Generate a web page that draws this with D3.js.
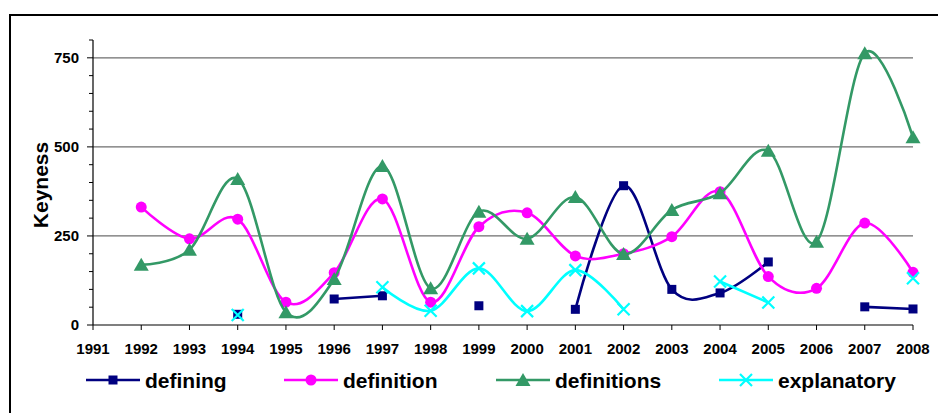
<!DOCTYPE html>
<html><head><meta charset="utf-8">
<script src="https://cdn.jsdelivr.net/npm/d3@7"></script>
<style>body{margin:0;background:#fff}svg{display:block;font-family:Arial,"Liberation Sans",sans-serif}</style>
</head><body><svg id="c" width="938" height="413"></svg>
<script>
const years = [1991,1992,1993,1994,1995,1996,1997,1998,1999,2000,2001,2002,2003,2004,2005,2006,2007,2008];
const defining    = [null,null,null,30,null,73,82,null,54,null,44,391,100,90,177,null,51,45];
const definition  = [null,331,242,297,64,147,354,64,276,315,194,200,248,374,136,103,286,148];
const definitions = [null,169,211,410,36,129,446,103,318,242,359,199,323,370,489,234,763,527];
const explanatory = [null,null,null,28,null,null,106,40,159,39,154,44,null,122,63,null,null,131];
const seriesNames = ["defining","definition","definitions","explanatory"];
const seriesColors = ["#000080","#FF00FF","#339966","#00FFFF"];
const seriesMarkers = ["square","circle","triangle","x"];
const yMajorTicks = [0,250,500,750];
const yTitle = "Keyness";

const svg = d3.select("#c");
svg.append("rect").attr("x",10).attr("y",15).attr("width",940).attr("height",420)
  .attr("fill","none").attr("stroke","#000").attr("stroke-width",2);

const x = d3.scaleLinear().domain([1991,2008]).range([93,913]);
const y = d3.scaleLinear().domain([0,800]).range([325,40]);

// gridlines
svg.append("g").selectAll("line").data(yMajorTicks.filter(v=>v>0)).join("line")
  .attr("x1",x(1991)).attr("x2",x(2008)).attr("y1",d=>y(d)).attr("y2",d=>y(d))
  .attr("stroke","#6e6e6e").attr("stroke-width",1.2);

// y axis
const minor = d3.range(0,801,50);
svg.append("g").selectAll("line").data(minor).join("line")
  .attr("x1",d=>yMajorTicks.includes(d)?x(1991)-6:x(1991)-4).attr("x2",x(1991))
  .attr("y1",d=>y(d)).attr("y2",d=>y(d)).attr("stroke","#000").attr("stroke-width",1);
svg.append("line").attr("x1",x(1991)).attr("x2",x(1991)).attr("y1",y(800)).attr("y2",y(0))
  .attr("stroke","#000").attr("stroke-width",1.2);
svg.append("g").selectAll("text").data(yMajorTicks).join("text")
  .attr("x",79).attr("y",d=>y(d)).attr("dy","0.36em").attr("text-anchor","end")
  .attr("font-size",15).attr("font-weight","bold").text(d=>d);

// x axis
svg.append("line").attr("x1",x(1991)).attr("x2",x(2008)).attr("y1",y(0)).attr("y2",y(0))
  .attr("stroke","#000").attr("stroke-width",1.2);
svg.append("g").selectAll("line").data(years).join("line")
  .attr("x1",d=>x(d)).attr("x2",d=>x(d)).attr("y1",y(0)).attr("y2",y(0)+5)
  .attr("stroke","#000").attr("stroke-width",1);
svg.append("g").selectAll("text").data(years).join("text")
  .attr("x",d=>x(d)).attr("y",354).attr("text-anchor","middle")
  .attr("font-size",15).attr("font-weight","bold").text(d=>d);

svg.append("text").attr("transform","translate(48,185) rotate(-90)")
  .attr("text-anchor","middle").attr("font-size",21).attr("font-weight","bold").text(yTitle);

function marker(g, type, color, cx, cy){
  if(type==="square") g.append("rect").attr("x",cx-4.5).attr("y",cy-4.5).attr("width",9).attr("height",9).attr("fill",color);
  else if(type==="circle") g.append("circle").attr("cx",cx).attr("cy",cy).attr("r",5.5).attr("fill",color);
  else if(type==="triangle") g.append("path").attr("d",`M${cx},${cy-7}L${cx+7.5},${cy+6}L${cx-7.5},${cy+6}Z`).attr("fill",color);
  else { g.append("path").attr("d",`M${cx-6},${cy-6}L${cx+6},${cy+6}M${cx+6},${cy-6}L${cx-6},${cy+6}`)
    .attr("stroke",color).attr("stroke-width",2.2).attr("fill","none"); }
}

const allData = [defining, definition, definitions, explanatory];
const line = d3.line().defined(d=>d.v!=null).x(d=>x(d.yr)).y(d=>y(d.v)).curve(d3.curveCardinal.tension(0));
allData.forEach((arr,i)=>{
  const pts = years.map((yr,j)=>({yr, v: arr[j]}));
  const g = svg.append("g");
  g.append("path").attr("d", line(pts)).attr("fill","none").attr("stroke",seriesColors[i]).attr("stroke-width",2.6);
  pts.filter(p=>p.v!=null).forEach(p=>marker(g, seriesMarkers[i], seriesColors[i], x(p.yr), y(p.v)));
});

// legend
const legX = [86, 284, 496, 719];
const legY = 380;
seriesNames.forEach((n,i)=>{
  const g = svg.append("g");
  g.append("line").attr("x1",legX[i]).attr("x2",legX[i]+54).attr("y1",legY).attr("y2",legY)
    .attr("stroke",seriesColors[i]).attr("stroke-width",2.6);
  marker(g, seriesMarkers[i], seriesColors[i], legX[i]+27, legY);
  g.append("text").attr("x",legX[i]+59).attr("y",legY).attr("dy","0.36em")
    .attr("font-size",21).attr("font-weight","bold").text(n);
});
</script></body></html>
